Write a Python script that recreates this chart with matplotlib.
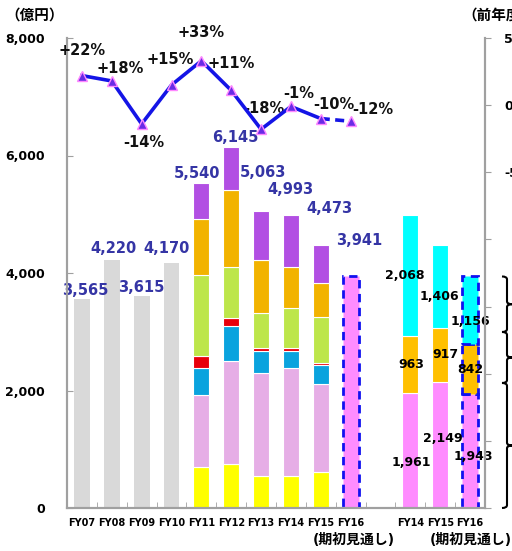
import matplotlib
matplotlib.use("Agg")
import matplotlib.pyplot as plt
import numpy as np
from matplotlib.path import Path
from matplotlib.patches import PathPatch

plt.rcParams["font.family"] = ["DejaVu Sans", "Noto Sans CJK JP"]
plt.rcParams["font.weight"] = "bold"

# data (億円)
old_years = ["FY07", "FY08", "FY09", "FY10"]
old_totals = [3565, 4220, 3615, 4170]

seg_years = ["FY11", "FY12", "FY13", "FY14", "FY15"]
seg_yellow = [698, 749, 545, 545, 613]
seg_lilac = [1225, 1753, 1753, 1838, 1498]
seg_blue = [460, 596, 374, 289, 323]
seg_red = [204, 136, 51, 51, 34]
seg_green = [1379, 868, 596, 681, 783]
seg_orange = [953, 1310, 902, 698, 579]
seg_purple = [621, 733, 842, 891, 643]
seg_totals = [5540, 6145, 5063, 4993, 4473]

fy16_total = 3941

# growth rate (%)
growth = [22, 18, -14, 15, 33, 11, -18, -1, -10, -12]
growth_labels = ["+22%", "+18%", "-14%", "+15%", "+33%", "+11%", "-18%", "-1%", "-10%", "-12%"]

right_years = ["FY14", "FY15", "FY16"]
right_pink = [1961, 2149, 1943]
right_orange = [963, 917, 842]
right_cyan = [2068, 1406, 1156]

# label placement (hand tuned like the original)
total_dx = [3, 2, 0, -5, -4, 4, 2, 0, 9, 9]          # px
total_dy = [145, 205, 130, 255, 162, 155, 640, 420, 617, 604]
growth_off = [(0, 25), (8, 12), (2, -19), (-1, 26), (0, 28), (0, 27),
              (3, 21), (8, 13), (13, 14), (22, 12)]  # px
right_label_y = [[782, 1191, 885], [2442, 2607, 2364], [3949, 3608, 3166]]
right_label_dx = [[1, 3, 3], [1, 5, 0], [-6, -1, 0]]
brace_edges = [0, 2128, 2996, 3941]

px = 0.72  # points per pixel at dpi 100

fig = plt.figure(figsize=(5.12, 5.51), dpi=100)
ax = fig.add_axes([67 / 512, 1 - 508 / 551, 418 / 512, 470 / 551])
ax2 = ax.twinx()

w = 0.53
unit = 418 / 14  # px per slot

# old gray bars
x_old = np.arange(len(old_years))
ax.bar(x_old, old_totals, w, color="#D9D9D9", zorder=2)

# stacked bars
x_seg = np.arange(4, 4 + len(seg_years))
stack = [seg_yellow, seg_lilac, seg_blue, seg_red, seg_green, seg_orange, seg_purple]
colors = ["#FFFF00", "#E6AEE6", "#0AA3DE", "#E8000B", "#BDE64A", "#F2B300", "#B24FE3"]
bottom = np.zeros(len(seg_years))
for vals, c in zip(stack, colors):
    ax.bar(x_seg, vals, w, bottom=bottom, color=c, edgecolor="white", linewidth=0.8, zorder=2)
    bottom += np.array(vals)

# FY16 forecast
ax.bar([9], [fy16_total], w, color="#FF8CFF", edgecolor="#1010F0", linewidth=2,
       linestyle=(0, (3, 2)), zorder=2)

# totals
all_totals = old_totals + seg_totals + [fy16_total]
for i, v in enumerate(all_totals):
    ax.text(i + total_dx[i] / unit, v + total_dy[i], f"{v:,}", ha="center", va="center",
            fontsize=10.5, color="#3535A5", zorder=5)

# right group
x_r = np.array([11, 12, 13])
right_stack = [right_pink, right_orange, right_cyan]
right_colors = ["#FF8CFF", "#FFC000", "#00FFFF"]
bottom = np.zeros(3)
for k, (vals, c) in enumerate(zip(right_stack, right_colors)):
    ax.bar(x_r[:2], vals[:2], w, bottom=bottom[:2], color=c, edgecolor="white",
           linewidth=0.8, zorder=2)
    ax.bar(x_r[2], vals[2], w, bottom=bottom[2], color=c, edgecolor="#1010F0",
           linewidth=2, linestyle=(0, (3, 2)), zorder=3)
    for j in range(3):
        ax.text(x_r[j] + right_label_dx[k][j] / unit, right_label_y[k][j], f"{vals[j]:,}",
                ha="center", va="center", fontsize=9, color="black", zorder=5)
    bottom += np.array(vals)

# braces on the right
trans = ax.get_yaxis_transform()
x0, x1, x2 = 1 + 17 / 418, 1 + 22 / 418, 1 + 27 / 418
h = 50
for lo, hi in zip(brace_edges[:-1], brace_edges[1:]):
    mid = (lo + hi) / 2
    verts = [(x0, hi), (x1, hi), (x1, hi - h),
             (x1, mid + h), (x1, mid), (x2, mid),
             (x1, mid), (x1, mid - h),
             (x1, lo + h), (x1, lo), (x0, lo)]
    codes = [Path.MOVETO, Path.CURVE3, Path.CURVE3,
             Path.LINETO, Path.CURVE3, Path.CURVE3,
             Path.CURVE3, Path.CURVE3,
             Path.LINETO, Path.CURVE3, Path.CURVE3]
    ax.add_patch(PathPatch(Path(verts, codes), transform=trans, fill=False,
                           edgecolor="black", linewidth=1.5, clip_on=False))

# growth line
xg = np.arange(len(growth))
ax2.plot(xg[:9], growth[:9], color="#1414E6", linewidth=2.6, zorder=4)
ax2.plot(xg[8:], growth[8:], color="#1414E6", linewidth=2.6, linestyle=(0, (2.5, 1.5)), zorder=4)
ax2.plot(xg, growth, linestyle="none", marker="^", markersize=6.5,
         markerfacecolor="#6A2BE6", markeredgecolor="#FF88FF", markeredgewidth=1, zorder=5)
for i, (v, t) in enumerate(zip(growth, growth_labels)):
    dx, dy = growth_off[i]
    ax2.annotate(t, (i, v), xytext=(dx * px, dy * px), textcoords="offset points",
                 ha="center", va="center", fontsize=10.5, color="#111111")

# axes styling
ax.set_xlim(-0.5, 13.5)
ax.set_ylim(0, 8000)
ax2.set_ylim(-300, 50)
ax.set_yticks([0, 2000, 4000, 6000, 8000])
ax.set_yticklabels(["0", "2,000", "4,000", "6,000", "8,000"])
ax2.set_yticks(np.arange(-300, 51, 50))
ax2.set_yticklabels(["" if t < -50 else f"{t}%" for t in np.arange(-300, 51, 50)])

xticks = list(range(10)) + [11, 12, 13]
ax.set_xticks(xticks)
ax.set_xticklabels(old_years + seg_years + ["FY16"] + right_years)
ax.set_xticks(np.arange(0.5, 13, 1), minor=True)
ax.tick_params(axis="x", which="major", length=0, pad=7, labelsize=7)
ax.tick_params(axis="x", which="minor", direction="in", length=4, color="#A0A0A0")
ax.tick_params(axis="y", direction="in", length=4, color="#A0A0A0", pad=16, labelsize=9)
ax2.tick_params(axis="y", direction="out", length=4, color="#A0A0A0", pad=10, labelsize=9)

for a in (ax, ax2):
    a.spines["top"].set_visible(False)
    for s in ("left", "right", "bottom"):
        a.spines[s].set_color("#A0A0A0")
        a.spines[s].set_linewidth(1.5)

fig.text(5 / 512, 1 - 15 / 551, "（億円）", ha="left", va="center", fontsize=10.5)
fig.text(462 / 512, 1 - 15 / 551, "（前年度比）", ha="left", va="center", fontsize=10.5)
fig.text(354 / 512, 1 - 540 / 551, "(期初見通し)", ha="center", va="center", fontsize=10)
fig.text(471 / 512, 1 - 540 / 551, "(期初見通し)", ha="center", va="center", fontsize=10)

fig.savefig("out.png", dpi=100)
